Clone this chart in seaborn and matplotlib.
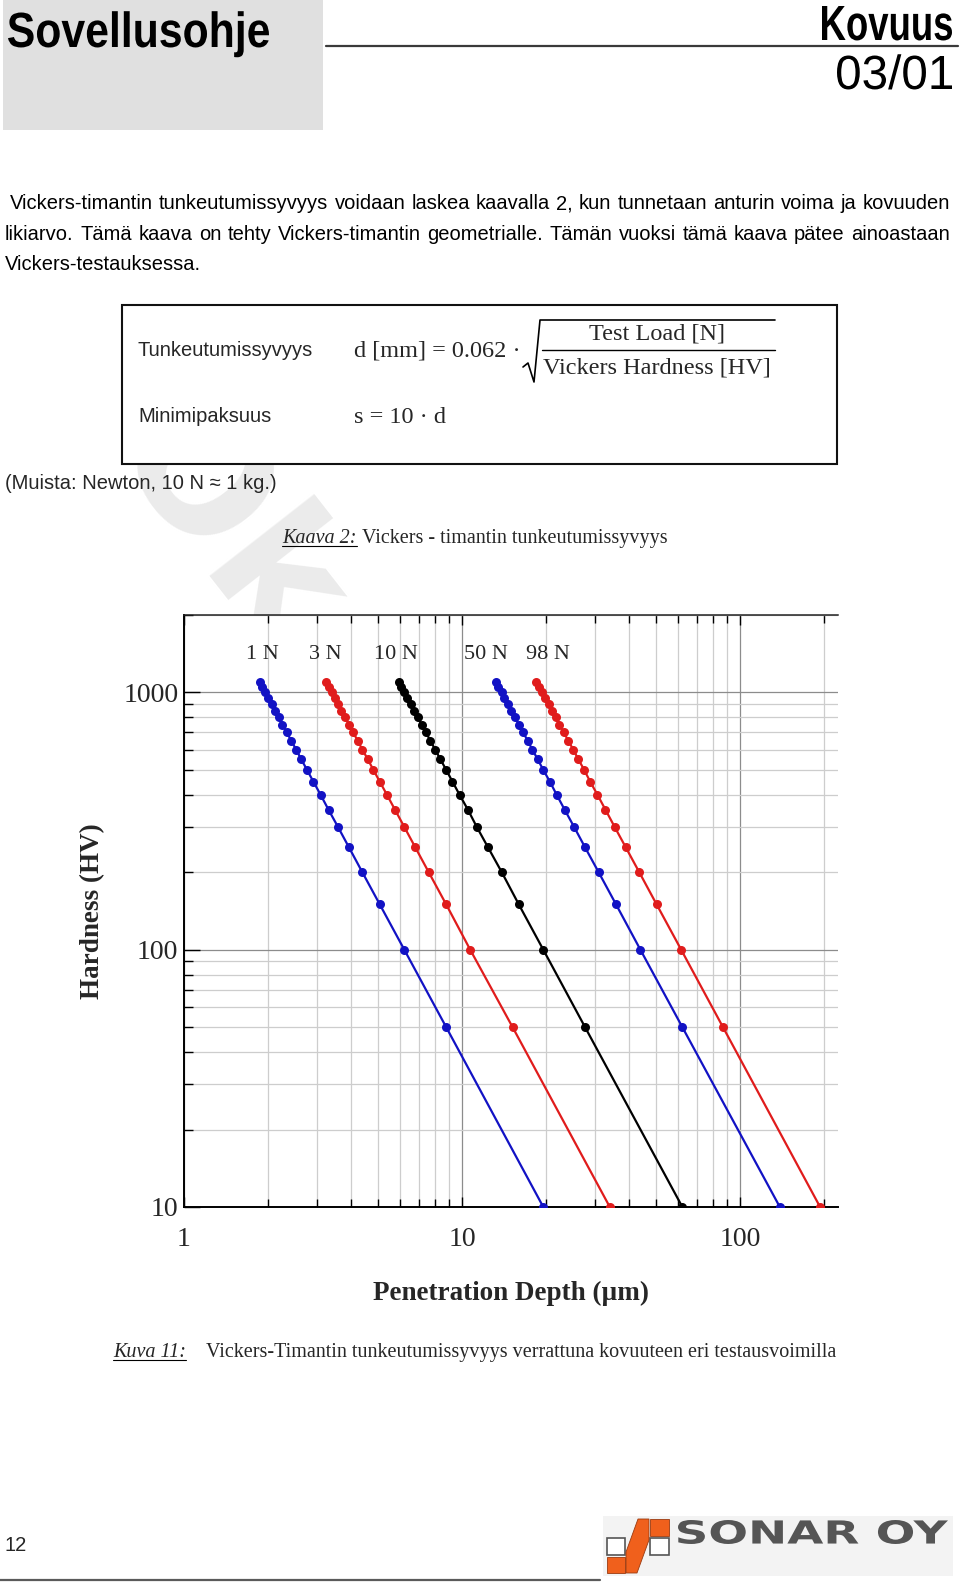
import numpy as np
import pandas as pd
import matplotlib
matplotlib.use('Agg')
import matplotlib.pyplot as plt
import matplotlib.transforms as mtransforms
from matplotlib.patches import Rectangle, Polygon, PathPatch
from matplotlib.lines import Line2D
from matplotlib.textpath import TextPath
from matplotlib.font_manager import FontProperties
from matplotlib.ticker import LogLocator, NullFormatter, FuncFormatter
import seaborn as sns

W, H = 960, 1582
SANS = ['Liberation Sans', 'DejaVu Sans']
SERIF = ['Liberation Serif', 'DejaVu Serif']

# Vickers hardness of the plotted points (HV)
hardness = [1100, 1050, 1000, 950, 900, 850, 800, 750, 700, 650, 600, 550,
            500, 450, 400, 350, 300, 250, 200, 150, 100, 50, 10]

# penetration depth (um), one list per test load
depth_1n = [1.87, 1.91, 1.96, 2.01, 2.07, 2.13, 2.19, 2.26, 2.34, 2.43, 2.53, 2.64,
            2.77, 2.92, 3.10, 3.31, 3.58, 3.92, 4.38, 5.06, 6.20, 8.77, 19.6]
depth_3n = [3.24, 3.31, 3.40, 3.49, 3.58, 3.68, 3.80, 3.92, 4.06, 4.21, 4.38, 4.58,
            4.80, 5.06, 5.37, 5.74, 6.20, 6.79, 7.59, 8.77, 10.7, 15.2, 34.0]
depth_10n = [5.91, 6.05, 6.20, 6.36, 6.54, 6.73, 6.93, 7.16, 7.41, 7.69, 8.00, 8.36,
             8.77, 9.24, 9.80, 10.5, 11.3, 12.4, 13.9, 16.0, 19.6, 27.7, 62.0]
depth_50n = [13.2, 13.5, 13.9, 14.2, 14.6, 15.0, 15.5, 16.0, 16.6, 17.2, 17.9, 18.7,
             19.6, 20.7, 21.9, 23.4, 25.3, 27.7, 31.0, 35.8, 43.8, 62.0, 139.0]
depth_98n = [18.5, 18.9, 19.4, 19.9, 20.5, 21.1, 21.7, 22.4, 23.2, 24.1, 25.1, 26.2,
             27.5, 28.9, 30.7, 32.8, 35.4, 38.8, 43.4, 50.1, 61.4, 86.8, 194.0]

loads = ['1 N', '3 N', '10 N', '50 N', '98 N']
x_ticks = [1, 10, 100]
y_ticks = [10, 100, 1000]

colors = ['#1212c4', '#e01c1c', '#000000', '#1212c4', '#e01c1c']
label_x = [1.91, 3.21, 5.80, 12.2, 20.3]   # where the load labels sit

sns.set_style('white')
plt.rcParams['font.family'] = SANS

fig = plt.figure(figsize=(W / 100, H / 100), dpi=100)


def fx(x):
    return x / W


def fy(y):
    return 1 - y / H


def put(x, y, s, **kw):
    kw.setdefault('family', SANS)
    return fig.text(fx(x), fy(y), s, **kw)


def line(xs, ys, **kw):
    fig.add_artist(Line2D([fx(v) for v in xs], [fy(v) for v in ys],
                          transform=fig.transFigure, **kw))


def justify(text, x0, x1, y, **kw):
    words = text.split()
    arts = [put(x0, y, w, va='baseline', **kw) for w in words]
    r = fig.canvas.get_renderer()
    widths = [a.get_window_extent(r).width for a in arts]
    gap = (x1 - x0 - sum(widths)) / (len(words) - 1)
    x = x0
    for a, w in zip(arts, widths):
        a.set_x(fx(x))
        x += w + gap


def width_of(art):
    return art.get_window_extent(fig.canvas.get_renderer()).width


def box_text(s, x0, x1, base, cap, weight='normal', family='Liberation Sans',
             color='black'):
    # text squeezed/stretched to a given width and cap height (narrow fonts)
    prop = FontProperties(family=family, weight=weight)
    tp = TextPath((0, 0), s, size=1, prop=prop)
    cap1 = TextPath((0, 0), 'H', size=1, prop=prop).get_extents().height
    bb = tp.get_extents()
    tr = (mtransforms.Affine2D().translate(-bb.x0, 0)
          .scale((x1 - x0) / bb.width / W, cap / cap1 / H)
          .translate(fx(x0), fy(base)) + fig.transFigure)
    fig.add_artist(PathPatch(tp, transform=tr, facecolor=color, edgecolor='none'))


# ---- watermark (behind everything)
put(225, 528, 'Ok', fontsize=126, weight='bold', color='#ebebeb', rotation=-52,
    ha='center', va='center', zorder=-10, family=['DejaVu Sans'])

# ---- header
fig.add_artist(Rectangle((fx(3), fy(130)), fx(320), 130 / H, transform=fig.transFigure,
                         facecolor='#e0e0e0', edgecolor='none', zorder=-5))
box_text('Sovellusohje', 8, 269, 47, 34, weight='bold')
box_text('Kovuus', 822, 952, 40, 34, weight='bold')
box_text('03/01', 837, 952, 89, 33)
line([326, 958], [45.5, 45.5], color='#3a3a3a', lw=1.6)

# ---- paragraph
para_kw = dict(fontsize=14.5, color='black')
justify('Vickers-timantin tunkeutumissyvyys voidaan laskea kaavalla 2, kun tunnetaan '
        'anturin voima ja kovuuden', 10, 950, 209, **para_kw)
justify('likiarvo. Tämä kaava on tehty Vickers-timantin geometrialle. Tämän vuoksi tämä '
        'kaava pätee ainoastaan', 5, 950, 240, **para_kw)
put(5, 270, 'Vickers-testauksessa.', va='baseline', **para_kw)

# ---- formula box
fig.add_artist(Rectangle((fx(122), fy(464)), (837 - 122) / W, (464 - 305) / H,
                         transform=fig.transFigure, facecolor='white',
                         edgecolor='#111111', lw=1.5, zorder=-4))
put(138, 356, 'Tunkeutumissyvyys', va='baseline', fontsize=14.5)
put(138, 422, 'Minimipaksuus', va='baseline', fontsize=14.5)
put(354, 357, 'd [mm] = 0.062 ·', va='baseline', fontsize=17.5, family=SERIF)
put(657, 334, 'Test Load [N]', va='center', ha='center', fontsize=17.5, family=SERIF)
put(657, 368, 'Vickers Hardness [HV]', va='center', ha='center', fontsize=17.5, family=SERIF)
line([542, 775], [350, 350], color='black', lw=1.0)
line([523, 528, 534, 540, 775], [367, 363, 382, 320, 320], color='black', lw=1.2)
put(354, 423, 's = 10 · d', va='baseline', fontsize=17.5, family=SERIF)

put(5, 489, '(Muista: Newton, 10 N ≈ 1 kg.)', va='baseline', fontsize=14.5)

# ---- formula caption
cap = put(282, 543, 'Kaava 2:', va='baseline', fontsize=14.5, family=SERIF, style='italic')
cw = width_of(cap)
line([282, 282 + cw], [546, 546], color='black', lw=0.8)
put(282 + cw + 5, 543, 'Vickers - timantin tunkeutumissyvyys', va='baseline',
    fontsize=14.5, family=SERIF)

# ---- chart
rows = []
for name, vals in zip(loads, [depth_1n, depth_3n, depth_10n, depth_50n, depth_98n]):
    for d, hv in zip(vals, hardness):
        rows.append((name, d, hv))
df = pd.DataFrame(rows, columns=['load', 'depth', 'hardness'])

ax = fig.add_axes([fx(184), fy(1207), (838 - 184) / W, (1207 - 615) / H])
ax.set_xscale('log')
ax.set_yscale('log')
sns.lineplot(data=df, x='depth', y='hardness', hue='load', hue_order=loads,
             palette=colors, estimator=None, sort=False, marker='o', markersize=6.5,
             markeredgewidth=0, lw=1.6, legend=False, ax=ax, zorder=3)
ax.set_xlim(1, 225)
ax.set_ylim(10, 2000)

ax.xaxis.set_major_locator(LogLocator(base=10, numticks=10))
ax.yaxis.set_major_locator(LogLocator(base=10, numticks=10))
ax.xaxis.set_minor_locator(LogLocator(base=10, subs=np.arange(2, 10), numticks=20))
ax.yaxis.set_minor_locator(LogLocator(base=10, subs=np.arange(2, 10), numticks=20))
ax.xaxis.set_major_formatter(FuncFormatter(lambda v, p: f'{v:g}'))
ax.yaxis.set_major_formatter(FuncFormatter(lambda v, p: f'{v:g}'))
ax.xaxis.set_minor_formatter(NullFormatter())
ax.yaxis.set_minor_formatter(NullFormatter())
ax.set_xticks(x_ticks)
ax.set_yticks(y_ticks)

ax.grid(which='major', color='#8c8c8c', lw=0.9)
ax.grid(which='minor', color='#cdcdcd', lw=0.9)
ax.set_axisbelow(True)

ax.tick_params(axis='x', which='both', direction='in', top=True, bottom=True,
               width=1.0, color='black', labelsize=20, pad=14.5)
ax.tick_params(axis='x', which='major', length=7.5)
ax.tick_params(axis='x', which='minor', length=5.5)
ax.tick_params(axis='y', which='both', direction='in', left=True, right=False,
               width=1.0, color='black', labelsize=20, pad=4)
ax.tick_params(axis='y', which='major', length=11.5)
ax.tick_params(axis='y', which='minor', length=6.5)
for lab in ax.get_xticklabels() + ax.get_yticklabels():
    lab.set_family(SERIF)

for side in ['left', 'bottom']:
    ax.spines[side].set_color('black')
    ax.spines[side].set_linewidth(1.4)
ax.spines['top'].set_color('#222222')
ax.spines['top'].set_linewidth(1.1)
ax.spines['right'].set_visible(False)

ax.set_xlabel('Penetration Depth (µm)', fontsize=19.5, weight='bold', family=SERIF)
ax.set_ylabel('Hardness (HV)', fontsize=19.5, weight='bold', family=SERIF)
ax.xaxis.set_label_coords(0.5, -0.125)
ax.yaxis.set_label_coords(-0.12, 0.5)

for name, lx in zip(loads, label_x):
    ax.text(lx, 1400, name, ha='center', va='center', fontsize=16, family=SERIF)

# ---- figure caption
kc = put(113, 1357, 'Kuva 11:', va='baseline', fontsize=14.5, family=SERIF, style='italic')
kw_ = width_of(kc)
line([113, 113 + kw_], [1360, 1360], color='black', lw=0.8)
put(206, 1357, 'Vickers-Timantin tunkeutumissyvyys verrattuna kovuuteen eri testausvoimilla',
    va='baseline', fontsize=14.5, family=SERIF)

# ---- footer
put(5, 1551, '12', va='baseline', fontsize=14.5)
line([0, 600], [1580, 1580], color='#5a5a5a', lw=1.6)

fig.add_artist(Rectangle((fx(603), fy(1576)), (953 - 603) / W, 60 / H,
                         transform=fig.transFigure, facecolor='#f3f3f3',
                         edgecolor='none', zorder=-5))
orange = '#f0601c'
for (x0, y0, x1, y1) in [(650, 1519, 669, 1536), (607, 1557, 625, 1573)]:
    fig.add_artist(Rectangle((fx(x0), fy(y1)), (x1 - x0) / W, (y1 - y0) / H,
                             transform=fig.transFigure, facecolor=orange,
                             edgecolor='#9a3a10', lw=0.6))
for (x0, y0, x1, y1) in [(650, 1538, 669, 1555), (607, 1538, 625, 1555)]:
    fig.add_artist(Rectangle((fx(x0), fy(y1)), (x1 - x0) / W, (y1 - y0) / H,
                             transform=fig.transFigure, facecolor='white',
                             edgecolor='#555555', lw=1.2))
mid = [(626, 1573), (637, 1573), (649, 1540), (649, 1519), (638, 1519), (626, 1552)]
fig.add_artist(Polygon([(fx(a), fy(b)) for a, b in mid], closed=True,
                       transform=fig.transFigure, facecolor=orange,
                       edgecolor='#9a3a10', lw=0.6))

tp = TextPath((0, 0), 'SONAR OY', size=1,
              prop=FontProperties(family='DejaVu Sans', weight='bold'))
bb = tp.get_extents()
tr = (mtransforms.Affine2D().translate(-bb.x0, -bb.y0)
      .scale(270 / bb.width / W, 24 / bb.height / H)
      .translate(fx(678), fy(1544)) + fig.transFigure)
fig.add_artist(PathPatch(tp, transform=tr, facecolor='#555555', edgecolor='none'))

fig.savefig('out.png', dpi=100)
